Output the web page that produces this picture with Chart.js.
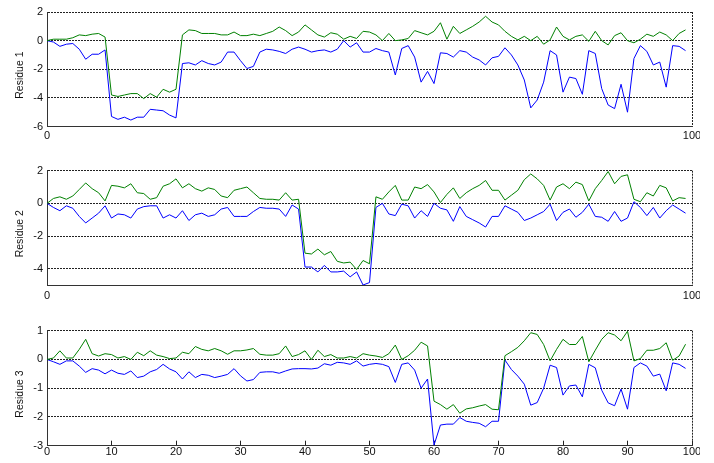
<!DOCTYPE html>
<html>
<head>
<meta charset="utf-8">
<script src="https://cdn.jsdelivr.net/npm/chart.js@4/dist/chart.umd.min.js"></script>
<style>
  body { margin: 0; background: #fff; }
  canvas { position: absolute; left: 0; }
</style>
</head>
<body>
<canvas id="r1" width="700" height="150" style="top:0px"></canvas>
<canvas id="r2" width="700" height="150" style="top:155px"></canvas>
<canvas id="r3" width="700" height="148" style="top:315px"></canvas>
<script>
// residue index 0..99
const steps = Array.from({length: 100}, (_, i) => i);

const green1 = [
  0, 0.1, 0.1, 0.1, 0.2, 0.4, 0.35, 0.45, 0.5, 0.25,
  -3.8, -3.9, -3.8, -3.7, -3.7, -4.05, -3.7, -3.95, -3.4, -3.6,
  -3.4, 0.4, 0.75, 0.7, 0.5, 0.5, 0.5, 0.4, 0.4, 0.6,
  0.35, 0.35, 0.45, 0.35, 0.5, 0.65, 0.95, 0.7, 0.35, 0.6,
  1.1, 0.75, 0.4, 0.25, 0.55, 0.45, 0.1, 0.3, 0.15, 0.65,
  0.6, 0.4, 0, 0.5, 0, 0.05, 0.15, 0.7, 0.55, 0.4,
  0.65, 1.25, 0.1, 1.0, 0.5, 0.75, 1.0, 1.3, 1.7, 1.3,
  1.1, 0.65, 0.3, 0.05, 0.3, 0, 0.3, -0.25, 0.05, 0.95,
  0.3, 0.05, 0.3, 0.4, -0.05, 0.65, 0, -0.3, 0.35, 0.55,
  0, -0.15, 0.1, 0.45, 0.3, 0.6, 0.4, 0, 0.5, 0.75
];
const blue1 = [
  0, -0.1, -0.4, -0.25, -0.2, -0.6, -1.3, -0.95, -0.95, -0.65,
  -5.3, -5.5, -5.35, -5.55, -5.35, -5.35, -4.8, -4.85, -4.9, -5.2,
  -5.4, -1.6, -1.55, -1.7, -1.4, -1.6, -1.7, -1.5, -0.8, -0.8,
  -1.4, -1.95, -1.8, -0.8, -0.6, -0.65, -0.75, -0.9, -0.6, -0.45,
  -0.6, -0.8, -0.7, -0.65, -0.8, -0.6, 0, -0.45, -0.15, -0.8,
  -0.8, -0.55, -0.7, -0.8, -2.4, -0.55, -0.35, -1.15, -2.9, -2.15,
  -3.0, -0.85, -0.9, -1.15, -0.7, -0.8, -1.15, -1.35, -1.7, -1.2,
  -1.1, -0.5, -1.0, -1.7, -2.75, -4.7, -4.15, -2.9, -0.7, -1.0,
  -3.6, -2.55, -2.65, -3.75, -0.7, -0.9, -3.35, -4.5, -4.75, -3.05,
  -5.0, -1.25, -0.35, -0.75, -1.7, -1.5, -3.25, -0.35, -0.4, -0.7
];

const green2 = [
  0, 0.3, 0.4, 0.25, 0.45, 0.85, 1.25, 0.9, 0.65, 0.15,
  1.1, 1.05, 0.95, 1.2, 0.65, 0.6, 0.25, 0.35, 1.05, 1.2,
  1.5, 0.95, 1.2, 0.9, 0.75, 0.95, 0.85, 0.45, 0.35, 0.8,
  0.9, 1.0, 0.65, 0.3, 0.25, 0.25, 0.2, 0.65, 0.2, 0.25,
  -3.05, -3.1, -2.8, -3.15, -2.95, -3.55, -3.65, -3.6, -4.05, -3.5,
  -3.7, 0.4, 0.25, 0.7, 1.1, 0.2, 0.2, 1.0, 0.9, 1.15,
  0.7, 0.05, 0.55, 0.95, 0.3, 0.65, 0.9, 1.1, 1.4, 0.8,
  0.8, 0.2, 0.5, 0.8, 1.45, 1.8, 1.5, 1.1, 0.2, 1.0,
  1.2, 0.9, 1.3, 1.15, 0.15, 0.9, 1.4, 1.95, 1.2, 1.65,
  1.75, 0.25, 0.1, 0.65, 0.45, 1.1, 0.95, 0.15, 0.35, 0.3
];
const blue2 = [
  0, -0.25, -0.45, -0.15, -0.3, -0.8, -1.2, -0.9, -0.6, -0.15,
  -0.9, -0.65, -0.7, -0.9, -0.35, -0.2, -0.15, -0.15, -0.9, -0.7,
  -0.9, -0.45, -1.05, -0.7, -0.6, -0.8, -0.7, -0.35, -0.25, -0.8,
  -0.8, -0.8, -0.5, -0.25, -0.3, -0.3, -0.35, -0.8, -0.1, -0.35,
  -3.9, -3.9, -4.2, -3.8, -4.2, -4.2, -4.15, -4.5, -4.2, -5.0,
  -4.85, -0.25, 0, -0.65, -0.75, -0.05, -0.15, -0.9, -0.45, -0.8,
  0, -0.3, -0.4, -1.1, -0.2, -0.8, -1.0, -1.2, -1.45, -0.8,
  -0.8, -0.15, -0.35, -0.55, -1.05, -0.9, -0.7, -0.5, -0.05, -1.05,
  -0.55, -0.35, -0.85, -0.55, -0.05, -0.8, -0.85, -1.1, -0.5, -1.1,
  -0.9, 0.1, -0.25, -0.75, -0.25, -0.9, -0.45, -0.1, -0.35, -0.6
];

const green3 = [
  0, 0.05, 0.3, 0.05, 0.05, 0.35, 0.7, 0.2, 0.12, 0.2,
  0.17, 0.05, 0.1, 0, 0.25, 0.13, 0.3, 0.15, 0.1, 0.03,
  0.05, 0.25, 0.2, 0.45, 0.35, 0.3, 0.38, 0.3, 0.18, 0.3,
  0.3, 0.33, 0.38, 0.18, 0.15, 0.15, 0.2, 0.47, 0.1, 0.17,
  0.3, 0, 0.32, 0.1, 0.17, 0.05, 0.05, 0.1, 0.05, 0.2,
  0.15, 0.12, 0.07, 0.2, 0.5, 0, 0.13, 0.32, 0.6, 0.47,
  -1.45, -1.57, -1.73, -1.57, -1.87, -1.72, -1.68, -1.62, -1.57, -1.73,
  -1.75, 0.13, 0.27, 0.42, 0.65, 0.93, 0.87, 0.52, -0.05, 0.35,
  0.7, 0.52, 0.52, 0.8, -0.08, 0.32, 0.7, 0.93, 0.85, 0.65,
  0.98, -0.05, 0.03, 0.32, 0.32, 0.38, 0.58, -0.03, 0.12, 0.53
];
const blue3 = [
  0, -0.08, -0.17, -0.05, -0.05, -0.23, -0.45, -0.32, -0.37, -0.5,
  -0.37, -0.48, -0.52, -0.4, -0.63, -0.58, -0.43, -0.35, -0.17, -0.33,
  -0.43, -0.68, -0.43, -0.63, -0.52, -0.55, -0.63, -0.58, -0.52, -0.32,
  -0.57, -0.75, -0.7, -0.45, -0.43, -0.43, -0.48, -0.4, -0.33, -0.32,
  -0.32, -0.33, -0.3, -0.15, -0.2, -0.1, -0.12, -0.17, -0.05, -0.23,
  -0.17, -0.14, -0.17, -0.25, -0.8, -0.17, -0.12, -0.37, -1.0, -0.68,
  -2.98, -2.28, -2.25, -2.25, -2.02, -2.15, -2.19, -2.22, -2.34, -2.15,
  -2.15, -0.02, -0.35, -0.58, -0.86, -1.59, -1.5, -1.0, -0.2, -0.28,
  -1.24, -0.92, -0.89, -1.3, -0.17, -0.29, -1.07, -1.51, -1.61, -1.03,
  -1.73, -0.28, -0.12, -0.23, -0.58, -0.51, -1.09, -0.12, -0.17, -0.31
];

const yTicks1 = [-6, -4, -2, 0, 2];
const yTicks2 = [-4, -2, 0, 2];
const yTicks3 = [-3, -2, -1, 0, 1];
const xTicksShort = [0, 100];
const xTicksFull = [0, 10, 20, 30, 40, 50, 60, 70, 80, 90, 100];

const FONT = 'Liberation Sans, Arial, sans-serif';

function panel(id, title, green, blue, yMin, yMax, yTicks, xTicks, padTop, xHeight, xPad, inward) {
  return new Chart(document.getElementById(id), {
    type: 'line',
    data: {
      labels: steps,
      datasets: [
        {data: green, borderColor: 'rgb(0,128,0)', borderWidth: 1, pointRadius: 0, tension: 0},
        {data: blue, borderColor: 'rgb(0,0,255)', borderWidth: 1, pointRadius: 0, tension: 0}
      ]
    },
    options: {
      responsive: false,
      animation: false,
      layout: {padding: {top: padTop, right: 8, left: 0, bottom: 0}},
      plugins: {legend: {display: false}, tooltip: {enabled: false}},
      scales: {
        x: {
          type: 'linear',
          min: 0,
          max: 100,
          afterBuildTicks: s => { s.ticks = xTicks.map(v => ({value: v})); },
          afterFit: s => { s.height = xHeight; s.paddingLeft = 0; s.paddingRight = 0; },
          grid: {
            color: c => (c.tick && c.tick.value === 100) ? '#222' : 'rgba(0,0,0,0)',
            tickColor: '#222',
            drawTicks: inward,
            tickLength: -5
          },
          border: {color: '#333', dash: [2, 1]},
          ticks: {color: '#111', font: {family: FONT, size: 11}, padding: xPad, maxRotation: 0, autoSkip: false}
        },
        y: {
          min: yMin,
          max: yMax,
          afterBuildTicks: s => { s.ticks = yTicks.map(v => ({value: v})); },
          afterFit: s => { s.width = 47; },
          grid: {color: '#222', drawTicks: false},
          border: {color: '#333', dash: [2, 1]},
          ticks: {color: '#111', font: {family: FONT, size: 11}, padding: 4},
          // trailing spaces nudge the label down like the original
          title: {display: true, text: title + '    ', color: '#111', font: {family: FONT, size: 10.5}, padding: {top: 14, bottom: 0}}
        }
      }
    }
  });
}

panel('r1', 'Residue 1', green1, blue1, -6, 2, yTicks1, xTicksShort, 12, 23.5, 3, false);
panel('r2', 'Residue 2', green2, blue2, -5, 2, yTicks2, xTicksShort, 15.7, 20, 4.5, false);
panel('r3', 'Residue 3', green3, blue3, -3, 1, yTicks3, xTicksFull, 15.7, 17.3, 5, true);
</script>
</body>
</html>
